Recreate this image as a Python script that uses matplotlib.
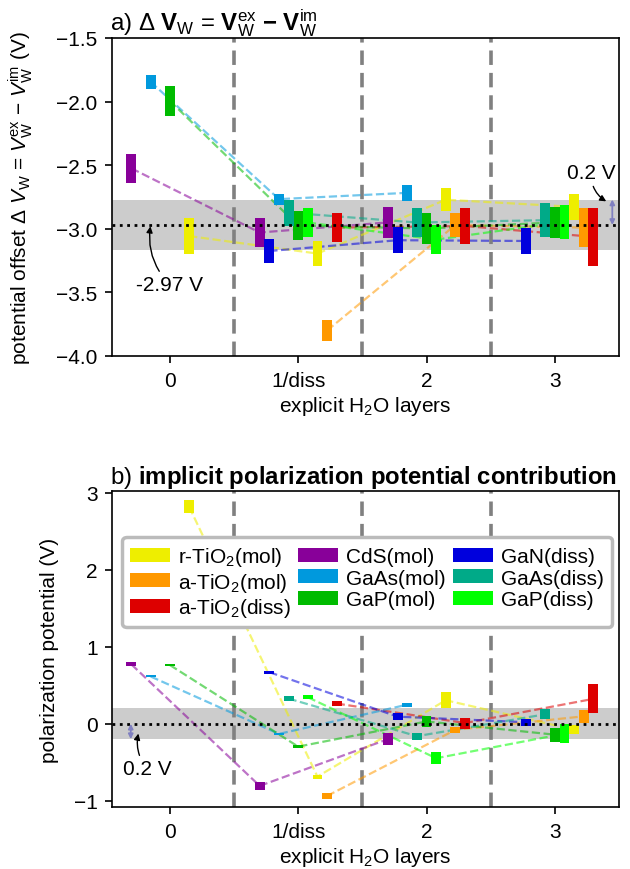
import numpy as np
import matplotlib
matplotlib.use("Agg")
import matplotlib.pyplot as plt
from matplotlib.patches import Patch

plt.rcParams['font.family'] = ['Liberation Sans', 'DejaVu Sans']
plt.rcParams['mathtext.fontset'] = 'custom'
plt.rcParams['mathtext.rm'] = 'Liberation Sans'
plt.rcParams['mathtext.it'] = 'Liberation Sans:italic'
plt.rcParams['mathtext.bf'] = 'Liberation Sans:bold'
plt.rcParams['axes.unicode_minus'] = True

FS = 15
TFS = 17.3

# ---------------- data ----------------
materials = ["r-TiO$_2$(mol)", "a-TiO$_2$(mol)", "a-TiO$_2$(diss)",
             "CdS(mol)", "GaAs(mol)", "GaP(mol)",
             "GaN(diss)", "GaAs(diss)", "GaP(diss)"]
colors = ["#eeee00", "#ff9900", "#dd0000",
          "#880099", "#0099dd", "#00bb00",
          "#0000dd", "#00aa88", "#00ff00"]
offsets = [0.15, 0.225, 0.30, -0.30, -0.15, 0.0, -0.225, -0.075, 0.075]

groups = [0, 1, 2, 3]
group_labels = ["0", "1/diss", "2", "3"]
nan = np.nan

# panel a: (low, high) per group 0..3
a_low = {
    "r-TiO$_2$(mol)":  [-3.20, -3.29, -2.863, -2.93],
    "a-TiO$_2$(mol)":  [nan, -3.88, -3.065, -3.144],
    "a-TiO$_2$(diss)": [nan, -3.105, -3.12, -3.29],
    "CdS(mol)":        [-2.64, -3.144, -3.07, nan],
    "GaAs(mol)":       [-1.90, -2.81, -2.78, nan],
    "GaP(mol)":        [-2.11, -3.09, -3.12, -3.07],
    "GaN(diss)":       [nan, -3.27, -3.19, -3.197],
    "GaAs(diss)":      [nan, -2.976, -3.065, -3.065],
    "GaP(diss)":       [nan, -3.065, -3.197, -3.08],
}
a_high = {
    "r-TiO$_2$(mol)":  [-2.915, -3.10, -2.68, -2.726],
    "a-TiO$_2$(mol)":  [nan, -3.72, -2.876, -2.837],
    "a-TiO$_2$(diss)": [nan, -2.876, -2.837, -2.837],
    "CdS(mol)":        [-2.41, -2.915, -2.83, nan],
    "GaAs(mol)":       [-1.79, -2.724, -2.655, nan],
    "GaP(mol)":        [-1.88, -2.86, -2.876, -2.83],
    "GaN(diss)":       [nan, -3.08, -2.99, -2.995],
    "GaAs(diss)":      [nan, -2.77, -2.837, -2.80],
    "GaP(diss)":       [nan, -2.837, -2.973, -2.81],
}

# panel b: (low, high) per group 0..3
b_low = {
    "r-TiO$_2$(mol)":  [2.733, -0.712, 0.20, -0.135],
    "a-TiO$_2$(mol)":  [nan, -0.974, -0.123, 0.015],
    "a-TiO$_2$(diss)": [nan, 0.23, -0.062, 0.135],
    "CdS(mol)":        [0.745, -0.854, -0.277, nan],
    "GaAs(mol)":       [0.60, -0.145, 0.222, nan],
    "GaP(mol)":        [0.746, -0.32, -0.041, -0.235],
    "GaN(diss)":       [nan, 0.648, 0.049, -0.028],
    "GaAs(diss)":      [nan, 0.294, -0.209, 0.058],
    "GaP(diss)":       [nan, 0.316, -0.523, -0.252],
}
b_high = {
    "r-TiO$_2$(mol)":  [2.897, -0.66, 0.41, -0.019],
    "a-TiO$_2$(mol)":  [nan, -0.90, -0.036, 0.178],
    "a-TiO$_2$(diss)": [nan, 0.294, 0.08, 0.51],
    "CdS(mol)":        [0.795, -0.759, -0.123, nan],
    "GaAs(mol)":       [0.626, -0.119, 0.274, nan],
    "GaP(mol)":        [0.777, -0.274, 0.10, -0.049],
    "GaN(diss)":       [nan, 0.69, 0.135, 0.067],
    "GaAs(diss)":      [nan, 0.359, -0.114, 0.187],
    "GaP(diss)":       [nan, 0.372, -0.372, -0.006],
}

ref_a = -2.97
band = 0.2
ref_b = 0.0

# ---------------- plotting ----------------
fig = plt.figure(figsize=(6.3, 8.7), dpi=100)
ax1 = fig.add_axes([0.178, 0.5897, 0.8045, 0.3655])
ax2 = fig.add_axes([0.178, 0.0713, 0.8045, 0.3632])

BW = 0.077


def draw_panel(ax, low, high, ref):
    ax.axhspan(ref - band, ref + band, color="#cccccc", lw=0, zorder=0)
    for xv in [0.5, 1.5, 2.5]:
        ax.axvline(xv, color="#808080", lw=2.6, ls=(0, (4, 2.2)), zorder=1)
    for m, c, off in zip(materials, colors, offsets):
        lo = np.array(low[m], dtype=float)
        hi = np.array(high[m], dtype=float)
        x = np.array(groups, dtype=float) + off
        ok = ~np.isnan(lo)
        mid = (lo + hi) / 2
        ax.plot(x[ok], mid[ok], ls="--", color=c, lw=1.6, alpha=0.55, zorder=2)
        ax.bar(x[ok], (hi - lo)[ok], bottom=lo[ok], width=BW, color=c,
               lw=0, zorder=3)
    ax.axhline(ref, color="black", ls=":", lw=2, zorder=4)
    ax.set_xlim(-0.45, 3.5)
    ax.set_xticks(groups)
    ax.set_xticklabels(group_labels)
    ax.set_xlabel("explicit H$_2$O layers", fontsize=FS, labelpad=3)
    ax.tick_params(labelsize=FS, width=1.2, length=5, pad=5.5)
    for s in ax.spines.values():
        s.set_linewidth(1.2)


draw_panel(ax1, a_low, a_high, ref_a)
ax1.set_ylim(-4.0, -1.5)
ax1.set_yticks([-4.0, -3.5, -3.0, -2.5, -2.0, -1.5])
ax1.set_ylabel(r"potential offset $\Delta\ V_\mathrm{W}$ = $V_\mathrm{W}^\mathrm{ex}$ $-$ $V_\mathrm{W}^\mathrm{im}$ (V)",
               fontsize=FS)
ax1.yaxis.set_label_coords(-0.152, 0.5)
ax1.set_title(r"a) $\Delta\ \mathbf{V}_\mathrm{W}$ = $\mathbf{V}_\mathrm{W}^\mathrm{ex}\ \mathbf{-}\ \mathbf{V}_\mathrm{W}^\mathrm{im}$",
              loc="left", fontsize=TFS, x=-0.005)

ax1.annotate("-2.97 V", xy=(-0.15, ref_a), xytext=(0.0, -3.44),
             ha="center", va="center", fontsize=FS, zorder=6,
             arrowprops=dict(arrowstyle="-|>", color="black", lw=1,
                             connectionstyle="arc3,rad=-0.25",
                             shrinkA=1, shrinkB=1, mutation_scale=9))
ax1.annotate("", xy=(3.448, ref_a), xytext=(3.448, ref_a + band),
             arrowprops=dict(arrowstyle="<|-|>", color="#8080c0", lw=1.3,
                             shrinkA=0, shrinkB=0, mutation_scale=7), zorder=6)
ax1.annotate("0.2 V", xy=(3.41, -2.79), xytext=(3.283, -2.56),
             ha="center", va="center", fontsize=FS, zorder=6,
             arrowprops=dict(arrowstyle="-|>", color="black", lw=1,
                             connectionstyle="arc3,rad=0.3",
                             shrinkA=1, shrinkB=1, mutation_scale=9))

draw_panel(ax2, b_low, b_high, ref_b)
ax2.set_ylim(-1.08, 3.02)
ax2.set_yticks([-1, 0, 1, 2, 3])
ax2.set_ylabel("polarization potential (V)", fontsize=FS)
ax2.yaxis.set_label_coords(-0.105, 0.5)
ax2.set_title(r"b) $\mathbf{implicit\ polarization\ potential\ contribution}$",
              loc="left", fontsize=TFS, x=-0.005)
ax2.annotate("", xy=(-0.305, ref_b - band), xytext=(-0.305, ref_b),
             arrowprops=dict(arrowstyle="<|-|>", color="#8080c0", lw=1.3,
                             shrinkA=0, shrinkB=0, mutation_scale=7), zorder=6)
ax2.annotate("0.2 V", xy=(-0.243, -0.11), xytext=(-0.176, -0.587),
             ha="center", va="center", fontsize=FS, zorder=6,
             arrowprops=dict(arrowstyle="-|>", color="black", lw=1,
                             connectionstyle="arc3,rad=-0.25",
                             shrinkA=1, shrinkB=1, mutation_scale=9))

handles = [Patch(facecolor=c, edgecolor="none", label=m) for m, c in zip(materials, colors)]
leg = ax2.legend(handles=handles, ncol=3, loc="upper center",
                 bbox_to_anchor=(0.503, 0.854), fontsize=FS,
                 frameon=True, fancybox=True, framealpha=1,
                 handlelength=1.9, handleheight=0.65,
                 columnspacing=0.35, labelspacing=0.12, borderpad=0.38,
                 handletextpad=0.4, borderaxespad=0)
leg.get_frame().set_edgecolor("#bbbbbb")
leg.get_frame().set_linewidth(2.5)

fig.savefig("out.png", dpi=100)
